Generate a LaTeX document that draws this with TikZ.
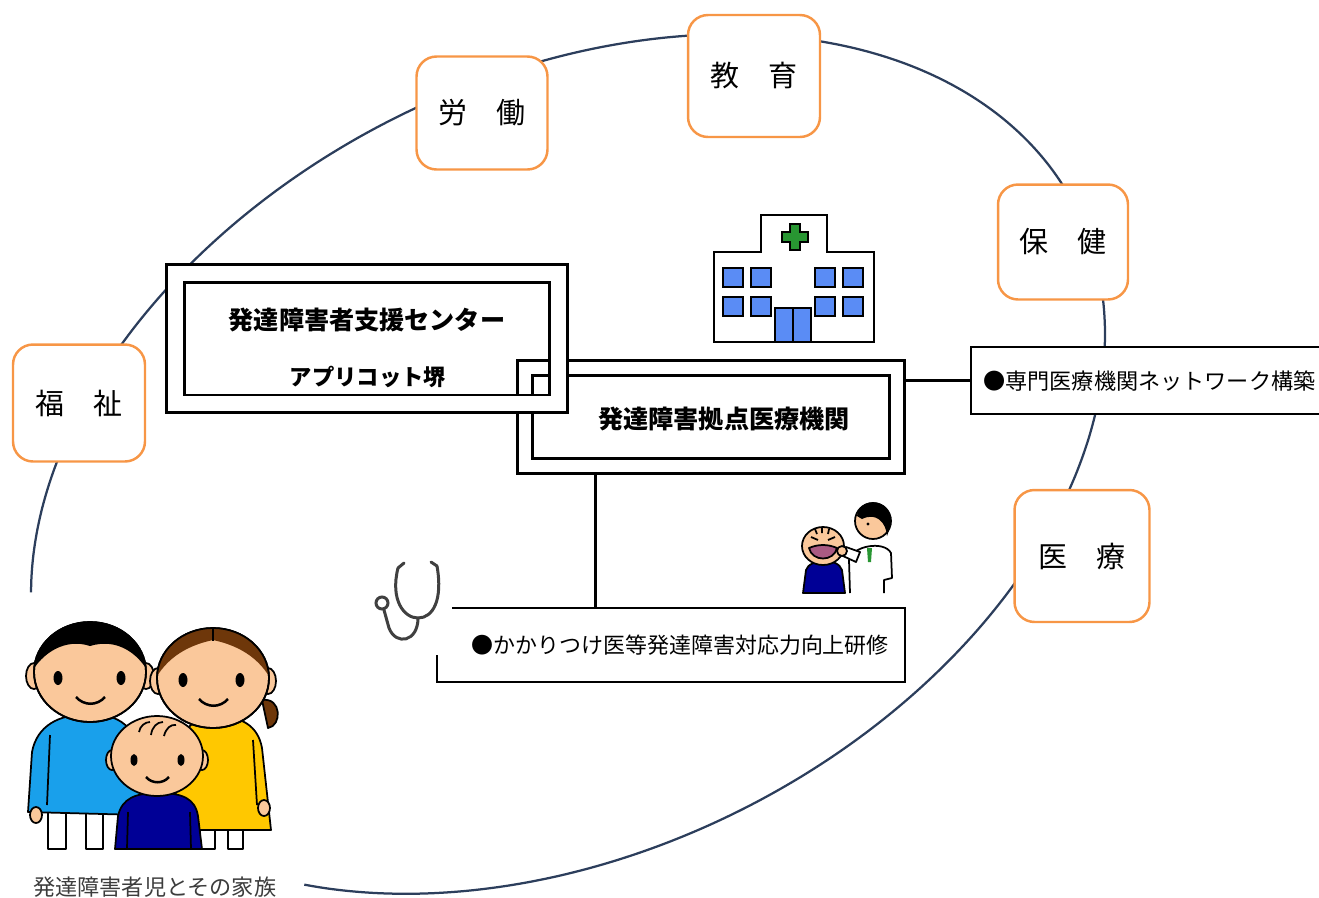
\documentclass[tikz,border=0pt]{standalone}
\usepackage{fontspec}
\setmainfont{Noto Sans CJK JP}
\usetikzlibrary{positioning}

\definecolor{fieldorange}{RGB}{247,150,70}
\definecolor{ringblue}{RGB}{44,62,92}
\definecolor{winblue}{RGB}{90,140,245}
\definecolor{crossgreen}{RGB}{40,150,50}
\definecolor{skin}{RGB}{250,200,155}
\definecolor{shirtblue}{RGB}{25,160,235}
\definecolor{dressyellow}{RGB}{255,200,0}
\definecolor{kidnavy}{RGB}{0,0,150}
\definecolor{hairbrown}{RGB}{110,55,10}
\definecolor{mouthred}{RGB}{170,90,130}
\definecolor{captiongray}{RGB}{60,60,60}

\tikzset{
  fieldbox/.style={draw=fieldorange, line width=1.4pt, rounded corners=0.4cm, fill=white, inner sep=0pt, font=\fontsize{16.5}{16.5}\selectfont},
  twoframe/.style={draw, double, line width=0.06cm, inner sep=0pt, outer sep=0.15cm},
  notebox/.style={draw, line width=0.04cm, fill=white, inner sep=0pt},
  boldlabel/.style={inner sep=0pt, font=\bfseries\fontsize{14.3}{14.3}\selectfont},
  textlabel/.style={inner sep=0pt, font=\fontsize{12.6}{12.6}\selectfont},
  wire/.style={line width=0.06cm},
  ink/.style={line width=0.035cm, line join=round}
}

\begin{document}
\begin{tikzpicture}[x=0.02cm, y=-0.02cm]
\useasboundingbox (0,0) rectangle (1319,897);

% ring around everything
\draw[ringblue, line width=0.045cm] plot[domain=221.7:520.9, samples=180, smooth]
  ({568+508.1*cos(\x)-173.8*sin(\x)}, {464-255.5*cos(\x)-345.6*sin(\x)});

% fields on the ring
\node[fieldbox, minimum width=2.62cm, minimum height=2.26cm] (labour) at (482,113) {労　働};
\node[fieldbox, minimum width=2.64cm, minimum height=2.44cm] (education) at (754,76) {教　育};
\node[fieldbox, minimum width=2.60cm, minimum height=2.30cm] (health) at (1063,242) {保　健};
\node[fieldbox, minimum width=2.64cm, minimum height=2.34cm] (welfare) at (79,403) {福　祉};
\node[fieldbox, minimum width=2.70cm, minimum height=2.64cm] (medical) at (1082,556) {医　療};

% network note
\node[notebox, minimum width=7.4cm, minimum height=1.34cm, anchor=west] (network) at (970,380.5) {};
\node[textlabel, anchor=west] (networktext) at (983,381) {●専門医療機関ネットワーク構築};

% hub hospital and support centre
\node[twoframe, double distance=0.24cm, minimum width=7.43cm, minimum height=1.96cm] (hub) at (711,416.5) {};
\node[twoframe, double distance=0.3cm, minimum width=7.68cm, minimum height=2.62cm] (centre) at (367,338.5) {};
\node[boldlabel] (centretitle) at (367,320) {発達障害者支援センター};
\node[boldlabel, font=\bfseries\fontsize{12.7}{12.7}\selectfont] (centrename) at (368,377) {アプリコット堺};
\node[boldlabel] (hubtitle) at (724,419) {発達障害拠点医療機関};

% training note (corner left open)
\node[minimum width=9.36cm, minimum height=1.48cm, inner sep=0pt, outer sep=0pt] (training) at (671,645) {};
\draw[line width=0.04cm] ([xshift=0.3cm]training.north west) -- (training.north east)
  -- (training.south east) -- (training.south west) -- ([yshift=0.54cm]training.south west);
\node[textlabel, font=\fontsize{12.5}{12.5}\selectfont, anchor=west] (trainingtext) at (471,645) {●かかりつけ医等発達障害対応力向上研修};

% connectors
\coordinate (drop) at (595,540);
\draw[wire] (network.west) -- (network.west -| hub.east);
\draw[wire] (drop |- hub.south) -- (drop |- training.north);

% hospital building
\begin{scope}[line width=0.04cm]
  \draw[fill=white] (761,252) -- (761,215) -- (827,215) -- (827,252) -- (874,252)
    -- (874,342) -- (714,342) -- (714,252) -- cycle;
  \draw[fill=crossgreen, line width=0.025cm] (790,224) -- (800,224) -- (800,232) -- (808,232) -- (808,242)
    -- (800,242) -- (800,250) -- (790,250) -- (790,242) -- (782,242) -- (782,232) -- (790,232) -- cycle;
  \foreach \wx in {723,751,815,843}
    \foreach \wy in {268,297}
      \draw[fill=winblue] (\wx,\wy) rectangle ++(20,19);
  \draw[fill=winblue] (775,308) rectangle (793,342);
  \draw[fill=winblue] (793,308) rectangle (811,342);
\end{scope}

% doctor and patient
\draw[ink, fill=kidnavy] (803,593) -- (806,570) .. controls (809,559) and (838,557) .. (842,570) -- (845,593) -- cycle;
\draw[ink, fill=skin] (823,546) ellipse (21 and 19);
\draw[ink, fill=mouthred] (809,548) .. controls (812,562) and (834,562) .. (837,548) .. controls (828,544) and (818,544) .. cycle;
\draw[ink] (811,537) -- (818,540) (828,540) -- (835,537);
\draw[ink] (815,529) -- (817,534) (822,528) -- (822,533) (829,529) -- (828,534);
\draw[ink, fill=white] (850,593) -- (849,560) .. controls (852,546) and (884,540) .. (891,553) -- (892,578) -- (884,580) -- (884,593);
\fill[crossgreen] (867,548) -- (872,548) -- (871,562) -- (868,562) -- cycle;
\draw[ink, fill=white] (856,562) -- (843,556) -- (846,547) -- (860,552) -- cycle;
\draw[ink, fill=skin] (842,551) circle (5);
\draw[ink, fill=skin] (873,521) circle (18);
\fill[black] (857,516) .. controls (858,497) and (893,496) .. (891,524) -- (887,536)
  .. controls (886,522) and (876,512) .. (862,519) -- cycle;
\fill (868,524) circle (1.6);

% stethoscope
\begin{scope}[draw=black!75, line width=0.06cm, line cap=round]
  \draw (398,568) .. controls (390,600) and (404,618) .. (418,618) .. controls (433,618) and (443,600) .. (437,566);
  \draw (398,568) -- (404,563);
  \draw (437,566) -- (431,562);
  \draw (418,618) .. controls (418,642) and (396,646) .. (389,628) -- (384,610);
  \draw[fill=white] (382,603) circle (6);
\end{scope}

% father
\draw[ink, fill=skin] (34,676) ellipse (8 and 13);
\draw[ink, fill=skin] (146,676) ellipse (8 and 13);
\draw[ink, fill=white] (48,805) rectangle (66,849);
\draw[ink, fill=white] (86,805) rectangle (103,849);
\draw[ink, fill=shirtblue] (28,812) -- (32,752) .. controls (37,726) and (58,714) .. (90,714)
  .. controls (120,714) and (136,728) .. (139,755) -- (141,815) -- cycle;
\draw[ink] (50,735) -- (47,805);
\draw[ink, fill=skin] (36,815) ellipse (6 and 8);
\draw[ink, fill=skin] (90,672) ellipse (56 and 50);
\begin{scope}
  \clip (90,672) ellipse (56 and 50);
  \fill[black] (30,610) -- (30,675) .. controls (42,652) and (66,638) .. (90,646)
    .. controls (116,638) and (138,652) .. (150,675) -- (150,610) -- cycle;
\end{scope}
\draw[ink] (90,672) ellipse (56 and 50);
\fill (58,678) ellipse (4.5 and 7);
\fill (121,678) ellipse (4.5 and 7);
\draw[ink, line width=0.05cm] (76,697) .. controls (84,706) and (97,706) .. (105,697);

% mother
\draw[ink, fill=hairbrown] (262,700) .. controls (282,697) and (282,726) .. (268,728) -- cycle;
\draw[ink, fill=skin] (158,681) ellipse (8 and 13);
\draw[ink, fill=skin] (268,681) ellipse (8 and 13);
\draw[ink, fill=white] (200,820) rectangle (215,849);
\draw[ink, fill=white] (228,820) rectangle (243,849);
\draw[ink, fill=dressyellow] (173,830) -- (179,748) .. controls (184,724) and (200,716) .. (215,716)
  .. controls (242,716) and (258,726) .. (262,748) -- (271,830) -- cycle;
\draw[ink] (253,740) -- (257,805);
\draw[ink, fill=skin] (264,808) ellipse (6 and 8);
\draw[ink, fill=skin] (213,678) ellipse (56 and 50);
\begin{scope}
  \clip (213,678) ellipse (56 and 50);
  \fill[hairbrown] (150,620) -- (150,690) .. controls (162,660) and (185,646) .. (213,640)
    .. controls (241,646) and (264,660) .. (276,690) -- (276,620) -- cycle;
\end{scope}
\draw[ink] (213,678) ellipse (56 and 50);
\draw[ink] (213,629) -- (213,641);
\fill (183,680) ellipse (4.5 and 7);
\fill (240,680) ellipse (4.5 and 7);
\draw[ink, line width=0.05cm] (199,699) .. controls (207,708) and (220,708) .. (228,699);

% child
\draw[ink, fill=kidnavy] (115,849) -- (118,816) .. controls (122,798) and (136,793) .. (158,793)
  .. controls (182,793) and (195,798) .. (198,816) -- (202,849) -- cycle;
\draw[ink] (128,812) -- (127,849) (190,812) -- (191,849);
\draw[ink, fill=skin] (112,760) ellipse (6 and 10);
\draw[ink, fill=skin] (202,760) ellipse (6 and 10);
\draw[ink, fill=skin] (157,756) ellipse (46 and 40);
\draw[ink] (139,732) .. controls (140,726) and (145,722) .. (150,722);
\draw[ink] (151,735) .. controls (152,727) and (157,722) .. (163,722);
\draw[ink] (164,736) .. controls (166,728) and (171,724) .. (176,725);
\fill (134,760) ellipse (3.5 and 6);
\fill (181,760) ellipse (3.5 and 6);
\draw[ink, line width=0.05cm] (146,777) .. controls (152,784) and (163,784) .. (169,777);

\node[textlabel, text=captiongray, anchor=west] (familytext) at (33,887) {発達障害者児とその家族};
\end{tikzpicture}
\end{document}
